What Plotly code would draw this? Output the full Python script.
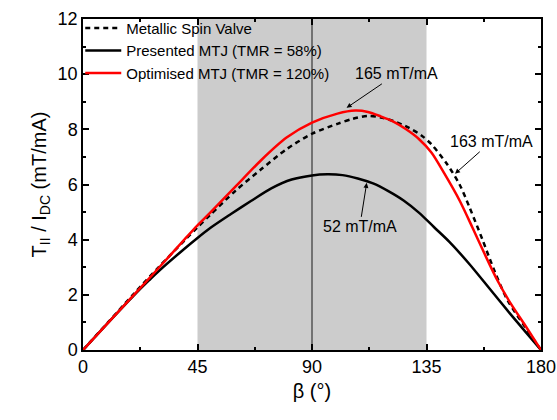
import plotly.graph_objects as go

# beta (deg) and torque / current (mT/mA)
beta_red = [0, 10, 20, 30, 40, 45, 50, 60, 70, 80, 90, 100, 107, 112, 117, 122, 127, 132, 137, 142, 148, 153, 158, 163, 168, 174, 180]
optimised = [0, 1.0, 2.0, 3.0, 4.02, 4.52, 4.98, 5.93, 6.88, 7.7, 8.24, 8.57, 8.68, 8.63, 8.47, 8.28, 8.0, 7.65, 7.15, 6.4, 5.42, 4.45, 3.45, 2.5, 1.7, 0.86, 0]

beta_dash = [0, 10, 20, 30, 40, 45, 50, 60, 70, 80, 90, 100, 106, 112, 117, 122, 128, 133, 137, 143, 148, 152, 157, 162, 167, 174, 180]
spin_valve = [0, 1.02, 2.04, 3.03, 3.98, 4.45, 4.9, 5.78, 6.55, 7.28, 7.84, 8.2, 8.38, 8.49, 8.43, 8.3, 8.06, 7.78, 7.45, 6.75, 6.0, 5.15, 4.0, 2.8, 1.78, 0.8, 0]

beta_black = [0, 10, 20, 26, 30, 40, 45, 50, 58, 66, 74, 82, 90, 96, 102, 108, 114, 120, 126, 132, 138, 144, 152, 160, 168, 174, 180]
presented = [0, 1.0, 1.98, 2.53, 2.88, 3.68, 4.06, 4.42, 4.92, 5.4, 5.86, 6.18, 6.33, 6.37, 6.34, 6.22, 6.04, 5.76, 5.42, 4.98, 4.45, 3.92, 3.1, 2.2, 1.3, 0.65, 0]

x_ticks = [0, 45, 90, 135, 180]
y_ticks = [0, 2, 4, 6, 8, 10, 12]

fig = go.Figure()

fig.add_trace(go.Scatter(x=beta_dash, y=spin_valve, mode="lines", name="Metallic Spin Valve",
                         line=dict(color="black", width=2.5, dash="5px,4px", shape="spline", smoothing=0.8)))
fig.add_trace(go.Scatter(x=beta_black, y=presented, mode="lines", name="Presented MTJ (TMR = 58%)",
                         line=dict(color="black", width=2.5, shape="spline", smoothing=0.8)))
fig.add_trace(go.Scatter(x=beta_red, y=optimised, mode="lines", name="Optimised MTJ (TMR = 120%)",
                         line=dict(color="red", width=2.5, shape="spline", smoothing=0.8)))

# grey window and the 90 deg marker
fig.add_shape(type="rect", x0=45, x1=135, y0=0, y1=12, xref="x", yref="y",
              fillcolor="#cccccc", line_width=0, layer="below")
fig.add_shape(type="line", x0=90, x1=90, y0=0, y1=12, xref="x", yref="y",
              line=dict(color="#555555", width=1.5), layer="below")

ann_font = dict(family="Arial", size=16, color="black")
for x, y, txt, ax, ay in [(103.6, 8.78, "165 mT/mA", 50, -34),
                          (146.2, 6.39, "163 mT/mA", 36, -32),
                          (111.5, 6.06, "52 mT/mA", -7, 44)]:
    fig.add_annotation(x=x, y=y, text=txt, showarrow=True, ax=ax, ay=ay,
                       arrowhead=2, arrowsize=1, arrowwidth=1, arrowcolor="black",
                       font=ann_font)

axis_common = dict(showline=True, linecolor="black", linewidth=1.5, mirror="allticks",
                   ticks="inside", ticklen=6, tickwidth=1.5, tickcolor="black",
                   showgrid=False, zeroline=False, automargin=False,
                   tickfont=dict(family="Arial", size=18, color="black"))

fig.update_xaxes(range=[0, 180], tickvals=x_ticks,
                 minor=dict(dtick=22.5, ticks="inside", ticklen=3, tickcolor="black", tickwidth=1.5),
                 title=dict(text="β (°)", font=dict(family="Arial", size=20, color="black"), standoff=8),
                 **axis_common)
fig.update_yaxes(range=[0, 12], tickvals=y_ticks,
                 minor=dict(dtick=1, ticks="inside", ticklen=3, tickcolor="black", tickwidth=1.5),
                 title=dict(text="T<sub>II</sub> / I<sub>DC</sub> (mT/mA)",
                            font=dict(family="Arial", size=20, color="black"), standoff=6),
                 **axis_common)

fig.update_layout(
    width=557, height=420,
    margin=dict(l=83, r=16, t=15, b=70),
    plot_bgcolor="white", paper_bgcolor="white",
    legend=dict(x=-0.006, y=1.022, xanchor="left", yanchor="top", bgcolor="rgba(0,0,0,0)",
                font=dict(family="Arial", size=15, color="black"), tracegroupgap=0,
                itemwidth=36),
)

fig.write_html("out.html", config={"displayModeBar": False},
               post_script="document.body.style.margin='0';")
